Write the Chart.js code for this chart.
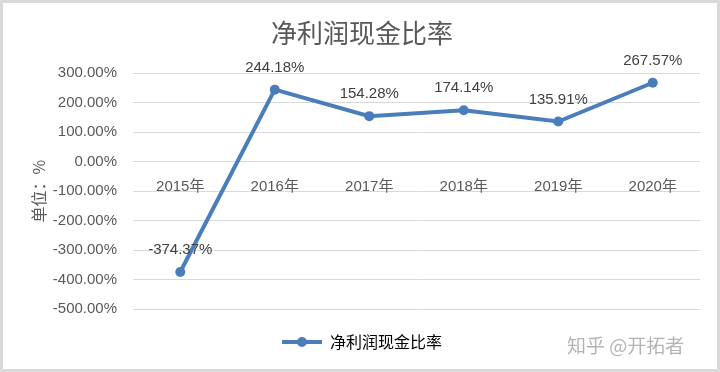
<!DOCTYPE html>
<html>
<head>
<meta charset="utf-8">
<script src="https://cdn.jsdelivr.net/npm/chart.js@4"></script>
<style>
  html, body { margin: 0; padding: 0; background: #fff; }
  #wrap { position: relative; width: 720px; height: 372px; }
  #frame { position: absolute; left: 0; top: 0; width: 720px; height: 372px; box-sizing: border-box; border: 3px solid #d9d9d9; pointer-events: none; }
  #mark { position: absolute; left: 567px; top: 331px; font: 19px "Noto Sans CJK SC", sans-serif; color: #b4b4b4; white-space: nowrap; }
</style>
</head>
<body>
<div id="wrap">
  <canvas id="ratio-chart" width="720" height="372"></canvas>
  <div id="frame"></div>
  <div id="mark">知乎 @开拓者</div>
</div>
<script>
// Chart data
const years = ["2015年", "2016年", "2017年", "2018年", "2019年", "2020年"];
const cashRatio = [-374.37, 244.18, 154.28, 174.14, 135.91, 267.57];
const yTicks = [300, 200, 100, 0, -100, -200, -300, -400, -500];

const FONT = '"Liberation Sans", "Noto Sans CJK SC", sans-serif';
const CJK = '"Noto Sans CJK SC", sans-serif';
const BLUE = "#4a7ebb";

// legend marker: line with a dot in the middle
const marker = document.createElement("canvas");
marker.width = 40;
marker.height = 12;
{
  const c = marker.getContext("2d");
  c.strokeStyle = BLUE;
  c.lineWidth = 4;
  c.beginPath();
  c.moveTo(0, 6);
  c.lineTo(40, 6);
  c.stroke();
  c.fillStyle = BLUE;
  c.beginPath();
  c.arc(20, 6, 5, 0, Math.PI * 2);
  c.fill();
}

// value labels above each point
const valueLabels = {
  id: "valueLabels",
  afterDatasetsDraw(chart) {
    const { ctx } = chart;
    const meta = chart.getDatasetMeta(0);
    ctx.save();
    ctx.font = "15px " + FONT;
    ctx.fillStyle = "#404040";
    ctx.textAlign = "center";
    ctx.textBaseline = "middle";
    meta.data.forEach((pt, i) => {
      ctx.fillText(cashRatio[i].toFixed(2) + "%", pt.x, pt.y - 22);
    });
    ctx.restore();
  },
};

new Chart(document.getElementById("ratio-chart"), {
  type: "line",
  data: {
    labels: years,
    datasets: [
      {
        label: "净利润现金比率",
        data: cashRatio,
        borderColor: BLUE,
        backgroundColor: BLUE,
        borderWidth: 4,
        pointRadius: 5,
        pointHoverRadius: 5,
        pointBackgroundColor: BLUE,
        pointBorderWidth: 0,
        tension: 0,
      },
    ],
  },
  options: {
    responsive: false,
    animation: false,
    layout: { padding: { top: 0, right: 20, bottom: 12, left: 24 } },
    plugins: {
      title: {
        display: true,
        text: "净利润现金比率",
        color: "#595959",
        font: { family: CJK, size: 26, weight: "normal" },
        padding: { top: 18, bottom: 24 },
      },
      legend: {
        position: "bottom",
        labels: {
          color: "#595959",
          font: { family: CJK, size: 16 },
          usePointStyle: true,
          pointStyleWidth: 40,
          padding: 8,
          generateLabels: (chart) => [
            {
              text: chart.data.datasets[0].label,
              pointStyle: marker,
              fillStyle: BLUE,
              strokeStyle: BLUE,
              lineWidth: 0,
              datasetIndex: 0,
            },
          ],
        },
      },
      tooltip: { enabled: false },
    },
    scales: {
      x: {
        position: { y: 0 },
        offset: true,
        grid: { display: false },
        border: { display: false },
        ticks: { color: "#595959", font: { family: FONT, size: 15 }, padding: 8, maxRotation: 0 },
      },
      gap: {
        type: "category",
        position: "bottom",
        grid: { display: false },
        border: { display: false },
        ticks: { display: false },
        afterFit: (s) => { s.height = 17; },
      },
      y: {
        min: -500,
        max: 300,
        afterBuildTicks: (s) => { s.ticks = yTicks.map((v) => ({ value: v })); },
        afterFit: (s) => { s.width = 109; },
        grid: { color: "#d9d9d9", lineWidth: 1, drawTicks: false },
        border: { display: false },
        ticks: {
          color: "#595959",
          font: { family: FONT, size: 15 },
          padding: 16,
          callback: (v) => v.toFixed(2) + "%",
        },
        title: {
          display: true,
          text: "单位：%",
          color: "#595959",
          font: { family: CJK, size: 16 },
          padding: { top: 5 },
        },
      },
    },
  },
  plugins: [valueLabels],
});
</script>
</body>
</html>
